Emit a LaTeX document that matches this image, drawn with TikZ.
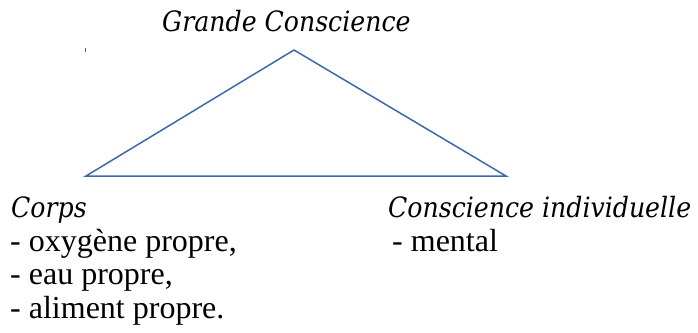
\documentclass[tikz,border=0pt]{standalone}
\usepackage{fontspec}
\setmainfont{Liberation Serif}
\newfontfamily\itfont{DejaVu Serif Condensed}[ItalicFont={DejaVu Serif Condensed Italic}]
\definecolor{triblue}{RGB}{62,104,170}
\begin{document}
\begin{tikzpicture}[x=1pt,y=-1pt,
  tri/.style={draw=triblue,line width=1.5pt,line join=miter},
  lbl/.style={anchor=base west,inner sep=0pt,font=\fontsize{32}{33}\selectfont},
  ilbl/.style={anchor=base west,inner sep=0pt,font=\itfont\itshape\fontsize{28}{33}\selectfont}]
\useasboundingbox (0,0) rectangle (698,332);
\coordinate (apex) at (294,50);
\coordinate (left) at (86,176);
\coordinate (right) at (506,176);
\draw[tri] (apex) -- (left) -- (right) -- cycle;
\coordinate (m1) at (85.7,48);
\coordinate (m2) at (85.7,51.5);
\draw[triblue,line width=0.7pt] (m1) -- (m2);
\node[ilbl] (gc) at (162,31.5) {Grande Conscience};
\node[ilbl] (corps) at (11,217) {Corps};
\node[lbl] (l1) at (10,251) {- oxygène propre,};
\node[lbl] (l2) at (10,284.5) {- eau propre,};
\node[lbl] (l3) at (10,318) {- aliment propre.};
\node[ilbl] (ci) at (388,217) {Conscience individuelle};
\node[lbl] (m) at (392,251) {- mental};
\end{tikzpicture}
\end{document}
